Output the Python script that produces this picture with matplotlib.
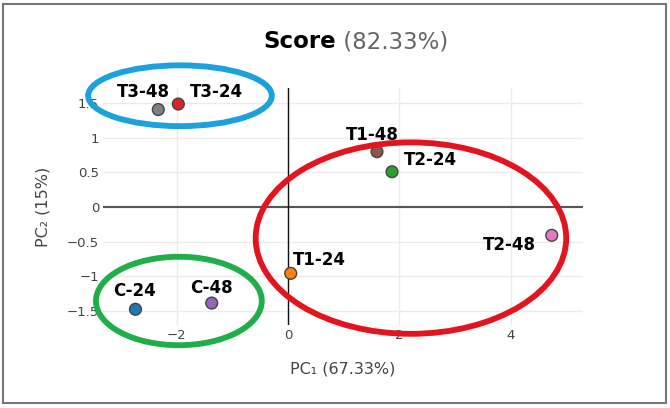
import matplotlib
matplotlib.use("Agg")
import matplotlib.pyplot as plt
from matplotlib.patches import Ellipse, Rectangle

# sample scores (PC1, PC2)
names = ["C-24", "C-48", "T1-24", "T1-48", "T2-24", "T2-48", "T3-24", "T3-48"]
pc1 = [-2.74, -1.37, 0.05, 1.60, 1.87, 4.74, -1.97, -2.33]
pc2 = [-1.48, -1.39, -0.96, 0.80, 0.51, -0.41, 1.49, 1.41]
colors = ["#1f77b4", "#9467bd", "#ff7f0e", "#8c564b", "#2ca02c", "#e377c2", "#d62728", "#7f7f7f"]
# label offsets in pixels from each point
label_dx = [-1, 0, 29, -5, 38, -42, 38, -15]
label_dy = [18, 15, 13, 17, 12, -10, 12, 18]

xticks = [-2, 0, 2, 4]
yticks = [-1.5, -1, -0.5, 0, 0.5, 1, 1.5]

# hand drawn group rings: center x, center y, width, height, colour
rings = [
    (-1.94, 1.61, 3.30, 0.88, "#1ba1dd"),
    (2.21, -0.45, 5.58, 2.77, "#e3141e"),
    (-1.96, -1.36, 2.98, 1.28, "#1fae48"),
]

fig = plt.figure(figsize=(6.7, 4.08), dpi=100)
ax = fig.add_axes([0.154, 0.203, 0.716, 0.581])
ax.set_xlim(-3.32, 5.30)
ax.set_ylim(-1.71, 1.72)

for s in ax.spines.values():
    s.set_visible(False)
ax.set_xticks(xticks)
ax.set_yticks(yticks)
ax.set_xticklabels([str(t).replace("-", "\u2212") for t in xticks])
ax.set_yticklabels([("%g" % t).replace("-", "\u2212") for t in yticks])
ax.tick_params(length=0, labelsize=9.5, labelcolor="#444444", pad=3)
ax.grid(True, color="#ebebeb", lw=1)
ax.set_axisbelow(True)
ax.axhline(0, color="#555555", lw=1.5, zorder=1)
ax.axvline(0, color="#111111", lw=1, zorder=1)

ax.scatter(pc1, pc2, s=72, c=colors, edgecolors="#444444", linewidths=1, zorder=3)
for n, x, y, dx, dy in zip(names, pc1, pc2, label_dx, label_dy):
    ax.annotate(n, (x, y), xytext=(dx, dy), textcoords="offset pixels",
                ha="center", va="center", fontsize=12, fontweight="bold",
                color="black", zorder=4)

for cx, cy, w, h, col in rings:
    ax.add_patch(Ellipse((cx, cy), w, h, fill=False, edgecolor=col, lw=4.2,
                         clip_on=False, zorder=5))

ax.set_xlabel("PC\u2081 (67.33%)", fontsize=11.5, color="#444444", labelpad=14)
ax.set_ylabel("PC\u2082 (15%)", fontsize=11.5, color="#444444", labelpad=12)

t = fig.text(336 / 670, 1 - 42 / 408, "Score", ha="right", va="center",
             fontsize=16.5, fontweight="bold", color="black")
ax.annotate(" (82.33%)", xy=(1, 0), xycoords=t, va="bottom", ha="left",
            fontsize=16.5, color="#666666", annotation_clip=False)

fig.add_artist(Rectangle((3 / 670, 5 / 408), 663 / 670, 399 / 408,
                         transform=fig.transFigure, fill=False,
                         edgecolor="#777777", lw=1.5))

fig.savefig("out.png", dpi=100)
